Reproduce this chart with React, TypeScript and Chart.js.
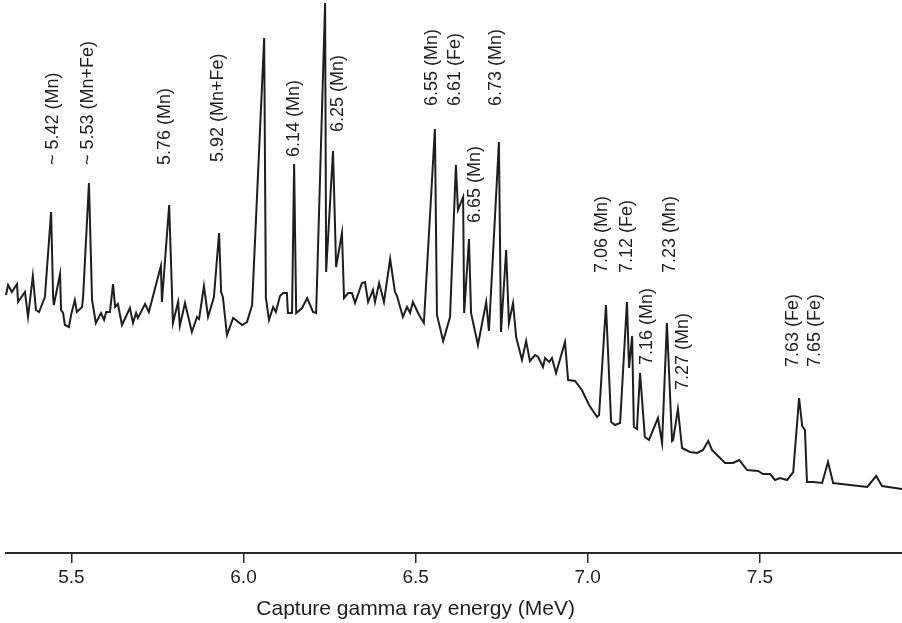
import React, { useEffect, useRef } from "react";
import { Chart, registerables } from "chart.js";

Chart.register(...registerables);

// Capture gamma ray energy (MeV) of each sampled point of the spectrum
const energies: number[] = [
  5.310, 5.316, 5.327, 5.342, 5.345, 5.365, 5.374, 5.388, 5.397, 5.406,
  5.423, 5.441, 5.447, 5.449, 5.467, 5.470, 5.476, 5.481, 5.493, 5.499,
  5.510, 5.516, 5.531, 5.534, 5.551, 5.560, 5.571, 5.586, 5.595, 5.601,
  5.612, 5.621, 5.627, 5.635, 5.647, 5.670, 5.679, 5.688, 5.693, 5.714,
  5.725, 5.760, 5.763, 5.784, 5.795, 5.810, 5.815, 5.830, 5.850, 5.865,
  5.871, 5.885, 5.897, 5.914, 5.929, 5.935, 5.940, 5.952, 5.970, 5.996,
  6.010, 6.025, 6.060, 6.065, 6.074, 6.086, 6.094, 6.106, 6.115, 6.126,
  6.129, 6.141, 6.147, 6.153, 6.170, 6.185, 6.202, 6.211, 6.237, 6.240,
  6.260, 6.269, 6.286, 6.292, 6.304, 6.315, 6.324, 6.344, 6.353, 6.362,
  6.376, 6.382, 6.394, 6.408, 6.426, 6.440, 6.446, 6.463, 6.475, 6.484,
  6.492, 6.510, 6.524, 6.556, 6.562, 6.580, 6.600, 6.617, 6.623, 6.638,
  6.641, 6.655, 6.661, 6.681, 6.705, 6.713, 6.742, 6.748, 6.763, 6.771,
  6.783, 6.792, 6.809, 6.821, 6.832, 6.847, 6.856, 6.870, 6.876, 6.888,
  6.896, 6.908, 6.934, 6.943, 6.963, 6.983, 7.004, 7.027, 7.033, 7.053,
  7.068, 7.079, 7.094, 7.114, 7.120, 7.129, 7.134, 7.143, 7.152, 7.166,
  7.178, 7.204, 7.216, 7.230, 7.245, 7.248, 7.262, 7.274, 7.297, 7.318,
  7.335, 7.350, 7.361, 7.399, 7.422, 7.440, 7.463, 7.495, 7.509, 7.530,
  7.544, 7.559, 7.579, 7.597, 7.614, 7.623, 7.631, 7.637, 7.655, 7.681,
  7.698, 7.713, 7.812, 7.838, 7.855, 7.913,
];

// Relative intensity (arbitrary units) at each energy
const intensities: number[] = [
  258, 268, 261, 269, 251, 261, 236, 277, 243, 241,
  256, 341, 255, 248, 279, 243, 240, 228, 226, 238,
  253, 241, 246, 256, 370, 253, 230, 240, 233, 241,
  241, 269, 246, 249, 228, 245, 230, 240, 235, 249,
  241, 287, 251, 348, 230, 251, 227, 250, 221, 236,
  234, 267, 236, 256, 320, 261, 256, 218, 235, 228,
  231, 248, 515, 255, 233, 246, 241, 257, 260, 260,
  240, 240, 389, 240, 245, 255, 241, 240, 550, 281,
  402, 286, 320, 255, 260, 260, 250, 270, 271, 251,
  263, 251, 270, 251, 294, 261, 257, 236, 246, 240,
  251, 238, 230, 424, 238, 212, 236, 388, 343, 356,
  240, 314, 240, 208, 251, 222, 411, 221, 303, 230,
  250, 216, 193, 212, 192, 198, 196, 186, 195, 191,
  195, 180, 211, 173, 172, 163, 148, 136, 138, 248,
  131, 128, 130, 251, 185, 217, 126, 124, 180, 116,
  113, 135, 110, 230, 112, 113, 144, 105, 101, 100,
  103, 112, 103, 90, 90, 93, 83, 82, 79, 79,
  73, 75, 73, 81, 155, 127, 123, 71, 71, 70,
  91, 70, 66, 77, 67, 64,
];

// Peak annotations: text, anchor energy, intensity at the start of the rotated text
const peakLabels: string[] = [
  "~ 5.42 (Mn)", "~ 5.53 (Mn+Fe)", "5.76 (Mn)", "5.92 (Mn+Fe)", "6.14 (Mn)",
  "6.25 (Mn)", "6.55 (Mn)", "6.61 (Fe)", "6.73 (Mn)", "6.65 (Mn)",
  "7.06 (Mn)", "7.12 (Fe)", "7.23 (Mn)", "7.16 (Mn)", "7.27 (Mn)",
  "7.63 (Fe)", "7.65 (Fe)",
];
const peakLabelEnergies: number[] = [
  5.447, 5.548, 5.772, 5.926, 6.147,
  6.275, 6.548, 6.614, 6.734, 6.673,
  7.042, 7.114, 7.239, 7.172, 7.277,
  7.597, 7.660,
];
const peakLabelLevels: number[] = [
  388, 388, 388, 391, 396,
  421, 447, 447, 447, 330,
  280, 280, 280, 188, 163,
  186, 186,
];

const tickValues: number[] = [5.5, 6.0, 6.5, 7.0, 7.5];
const tickLabels: string[] = ["5.5", "6.0", "6.5", "7.0", "7.5"];
const xTitle = "Capture gamma ray energy (MeV)";

const FONT = "'Liberation Sans', Arial, Helvetica, sans-serif";
const INK = "#1e1e1e";

export default function App() {
  const canvasRef = useRef<HTMLCanvasElement | null>(null);

  useEffect(() => {
    document.body.style.margin = "0";
    document.body.style.background = "#ffffff";
    const canvas = canvasRef.current;
    if (!canvas) return;

    const annotationPlugin = {
      id: "peakAnnotations",
      afterDatasetsDraw(chart: any) {
        const { ctx, scales } = chart;
        const xs = scales.x;
        const ys = scales.y;
        ctx.save();
        ctx.fillStyle = INK;
        ctx.font = `18px ${FONT}`;
        ctx.textAlign = "left";
        ctx.textBaseline = "middle";
        peakLabels.forEach((txt, i) => {
          const px = xs.getPixelForValue(peakLabelEnergies[i]);
          const py = ys.getPixelForValue(peakLabelLevels[i]);
          ctx.save();
          ctx.translate(px, py);
          ctx.rotate(-Math.PI / 2);
          ctx.fillText(txt, 0, 0);
          ctx.restore();
        });
        // axis title centred under the 6.5 MeV tick
        ctx.font = `21px ${FONT}`;
        ctx.textAlign = "center";
        ctx.textBaseline = "alphabetic";
        ctx.fillText(xTitle, xs.getPixelForValue(6.5), xs.top + 62);
        ctx.restore();
      },
    };

    const chart = new Chart(canvas, {
      type: "line",
      data: {
        datasets: [
          {
            data: energies.map((e, i) => ({ x: e, y: intensities[i] })),
            borderColor: INK,
            borderWidth: 2,
            pointRadius: 0,
            tension: 0,
            fill: false,
            clip: false as any,
          },
        ],
      },
      options: {
        responsive: false,
        animation: false,
        events: [],
        layout: { padding: { left: 6, right: 0, top: 0, bottom: 0 } },
        plugins: {
          legend: { display: false },
          tooltip: { enabled: false },
          title: { display: false },
        },
        scales: {
          x: {
            type: "linear",
            min: 5.31,
            max: 7.913,
            afterBuildTicks: (axis: any) => {
              axis.ticks = tickValues.map((v) => ({ value: v }));
            },
            afterFit: (axis: any) => {
              axis.height = 70;
            },
            grid: {
              drawOnChartArea: false,
              drawTicks: true,
              tickLength: 10,
              color: "#2a2a2a",
              lineWidth: 1.5,
            },
            border: { display: true, color: "#2a2a2a", width: 2 },
            ticks: {
              padding: 3,
              color: INK,
              font: { family: FONT, size: 19 },
              maxRotation: 0,
              autoSkip: false,
              callback: (value: any) => {
                const idx = tickValues.indexOf(Number(value));
                return idx >= 0 ? tickLabels[idx] : "";
              },
            },
          },
          y: {
            type: "linear",
            display: false,
            min: 0,
            max: 553,
          },
        },
      },
      plugins: [annotationPlugin],
    });

    return () => {
      chart.destroy();
    };
  }, []);

  return (
    <div style={{ width: 902, height: 623, background: "#fff" }}>
      <canvas
        ref={canvasRef}
        width={902}
        height={623}
        style={{ display: "block", width: 902, height: 623 }}
      />
    </div>
  );
}
